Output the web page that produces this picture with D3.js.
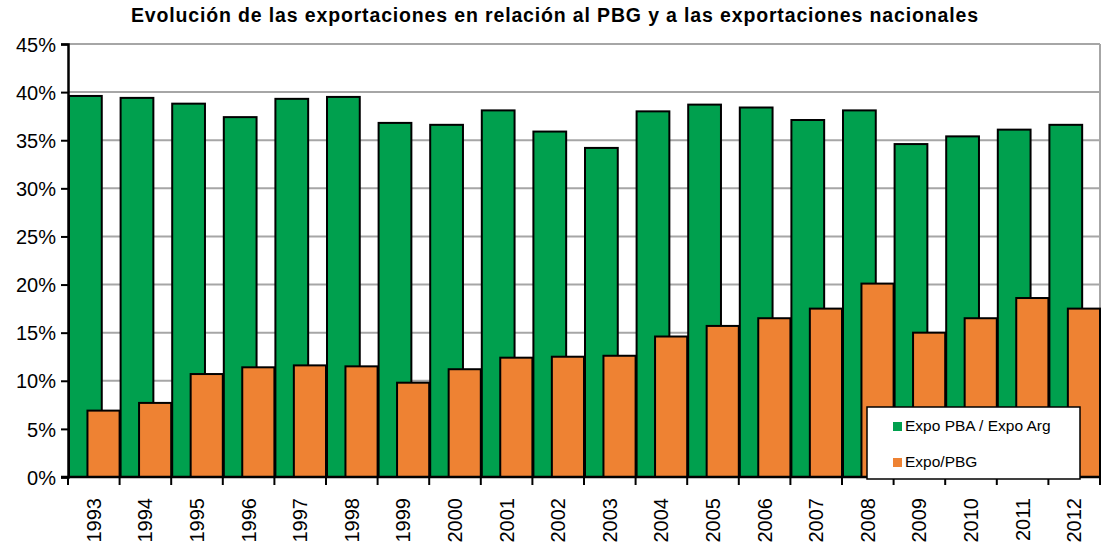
<!DOCTYPE html>
<html>
<head>
<meta charset="utf-8">
<script src="https://cdn.jsdelivr.net/npm/d3@7"></script>
<style>
  body { margin: 0; background: #fff; }
  svg { display: block; font-family: "Liberation Sans", Arial, sans-serif; }
</style>
</head>
<body>
<svg id="chart" width="1103" height="548"></svg>
<script>
// Data (percent values)
const years = ['1993', '1994', '1995', '1996', '1997', '1998', '1999', '2000', '2001', '2002',
  '2003', '2004', '2005', '2006', '2007', '2008', '2009', '2010', '2011', '2012'];
const expoPbaArg = [39.6, 39.4, 38.8, 37.4, 39.3, 39.5, 36.8, 36.6, 38.1, 35.9,
  34.2, 38.0, 38.7, 38.4, 37.1, 38.1, 34.6, 35.4, 36.1, 36.6];
const expoPbg = [6.9, 7.7, 10.7, 11.4, 11.6, 11.5, 9.8, 11.2, 12.4, 12.5,
  12.6, 14.6, 15.7, 16.5, 17.5, 20.1, 15.0, 16.5, 18.6, 17.5];
const yTicks = [0, 5, 10, 15, 20, 25, 30, 35, 40, 45];
const seriesNames = ['Expo PBA / Expo Arg', 'Expo/PBG'];
const title = 'Evolución de las exportaciones en relación al PBG y a las exportaciones nacionales';

const green = '#00A04E';
const orange = '#EE8233';

const margin = { top: 44, right: 3, bottom: 71, left: 68 };
const W = 1103, H = 548;
const width = W - margin.left - margin.right;
const height = H - margin.top - margin.bottom;

const svg = d3.select('#chart');
const g = svg.append('g').attr('transform', `translate(${margin.left}, ${margin.top})`);

const x = d3.scaleBand().domain(years).range([0, width]).padding(0);
const y = d3.scaleLinear().domain([0, 45]).range([height, 0]);
const bw = x.bandwidth();

// Title
svg.append('text')
  .attr('x', 131)
  .attr('y', 22)
  .attr('textLength', 847)
  .attr('lengthAdjust', 'spacing')
  .style('font-weight', 'bold')
  .style('font-size', '19.5px')
  .text(title);

// Gridlines
g.selectAll('line.grid')
  .data(yTicks.filter((d) => d > 0))
  .enter()
  .append('line')
  .classed('grid', true)
  .attr('x1', 0)
  .attr('x2', width)
  .attr('y1', (d) => y(d))
  .attr('y2', (d) => y(d))
  .style('stroke', '#a6a6a6')
  .style('stroke-width', 2);

// Right border of the plot area
g.append('line')
  .attr('x1', width).attr('x2', width)
  .attr('y1', 0).attr('y2', height)
  .style('stroke', '#a6a6a6')
  .style('stroke-width', 2);

// Green bars
g.selectAll('rect.pba')
  .data(expoPbaArg)
  .enter()
  .append('rect')
  .classed('pba', true)
  .attr('x', (d, i) => x(years[i]) + 1)
  .attr('y', (d) => y(d))
  .attr('width', bw * 0.635)
  .attr('height', (d) => height - y(d))
  .attr('fill', green)
  .attr('stroke', '#000')
  .attr('stroke-width', 2);

// Orange bars
g.selectAll('rect.pbg')
  .data(expoPbg)
  .enter()
  .append('rect')
  .classed('pbg', true)
  .attr('x', (d, i) => x(years[i]) + bw * 0.377)
  .attr('y', (d) => y(d))
  .attr('width', bw * 0.623)
  .attr('height', (d) => height - y(d))
  .attr('fill', orange)
  .attr('stroke', '#000')
  .attr('stroke-width', 2);

// Y axis
const yAxis = g.append('g')
  .call(d3.axisLeft(y).tickValues(yTicks).tickFormat((d) => `${d}%`).tickSize(7).tickPadding(5));
yAxis.select('.domain').attr('stroke', '#000').attr('stroke-width', 2.5);
yAxis.selectAll('.tick line').attr('stroke', '#000').attr('stroke-width', 2);
yAxis.selectAll('.tick text')
  .attr('fill', '#000')
  .style('font-size', '20px')
  .style('font-family', '"Liberation Sans", Arial, sans-serif')
  .attr('dy', '0.36em');

// X axis: baseline and ticks between categories
const xAxis = g.append('g').attr('transform', `translate(0, ${height})`);
xAxis.append('line')
  .attr('x1', -7).attr('x2', width)
  .style('stroke', '#000')
  .style('stroke-width', 2.5);
xAxis.selectAll('line.xtick')
  .data(years.concat(['end']))
  .enter()
  .append('line')
  .classed('xtick', true)
  .attr('x1', (d, i) => i * bw)
  .attr('x2', (d, i) => i * bw)
  .attr('y1', 0)
  .attr('y2', 8)
  .style('stroke', '#000')
  .style('stroke-width', 2);
xAxis.selectAll('text.year')
  .data(years)
  .enter()
  .append('text')
  .classed('year', true)
  .attr('transform', (d) => `translate(${x(d) + bw / 2 + 7}, 21) rotate(-90)`)
  .attr('text-anchor', 'end')
  .style('font-size', '20px')
  .text((d) => d);

// Legend
const legend = svg.append('g').attr('transform', 'translate(867, 407)');
legend.append('rect')
  .attr('width', 213)
  .attr('height', 72)
  .attr('fill', '#fff')
  .attr('stroke', '#000')
  .attr('stroke-width', 1.5);
const entries = legend.selectAll('g.entry')
  .data(seriesNames)
  .enter()
  .append('g')
  .classed('entry', true)
  .attr('transform', (d, i) => `translate(26, ${15 + i * 36})`);
entries.append('rect')
  .attr('width', 9)
  .attr('height', 9)
  .attr('fill', (d, i) => (i === 0 ? green : orange));
entries.append('text')
  .attr('x', 12)
  .attr('y', 9)
  .style('font-size', '15.5px')
  .text((d) => d);
</script>
</body>
</html>
